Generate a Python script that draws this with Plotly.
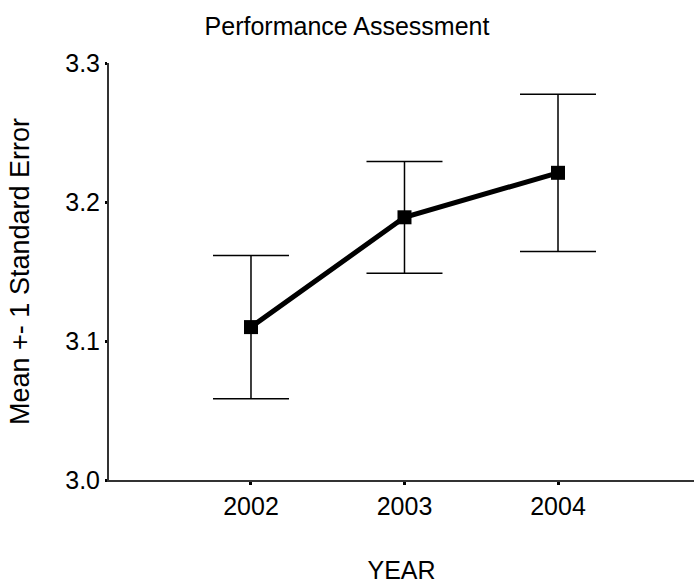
import plotly.graph_objects as go

# Mean scores by year with +/- 1 standard error
years = ["2002", "2003", "2004"]
means = [3.110, 3.189, 3.221]
std_err = [0.0515, 0.0402, 0.0566]

y_ticks = [3.0, 3.1, 3.2, 3.3]

font_family = "Arial, Liberation Sans, sans-serif"

fig = go.Figure()
fig.add_trace(go.Scatter(
    x=years,
    y=means,
    mode="lines+markers",
    line=dict(color="black", width=5),
    marker=dict(symbol="square", size=14, color="black"),
    error_y=dict(type="data", array=std_err, visible=True,
                 color="black", thickness=1.5, width=38),
    showlegend=False,
))

fig.update_layout(
    width=694, height=584,
    margin=dict(l=109, r=0, t=63, b=104),
    paper_bgcolor="white", plot_bgcolor="white",
    font=dict(family=font_family, size=25, color="black"),
    title=dict(text="Performance Assessment", x=0.5, xanchor="center",
               y=0.955, yanchor="middle", font=dict(size=25)),
)

fig.update_xaxes(
    type="category", range=[-0.925, 2.886],
    showline=True, linecolor="#333333", linewidth=2,
    ticks="outside", ticklen=3, tickwidth=3, tickcolor="black",
    showgrid=False, zeroline=False,
    title=dict(text="YEAR", font=dict(size=25), standoff=44),
)
fig.update_yaxes(
    range=[3.0, 3.3], tickvals=y_ticks, tickformat=".1f",
    showline=True, linecolor="#333333", linewidth=2,
    ticks="outside", ticklen=2, tickwidth=3, tickcolor="black",
    showgrid=False, zeroline=False,
    title=dict(text="Mean +- 1 Standard Error", font=dict(size=27), standoff=28),
)

fig.write_html("out.html")
